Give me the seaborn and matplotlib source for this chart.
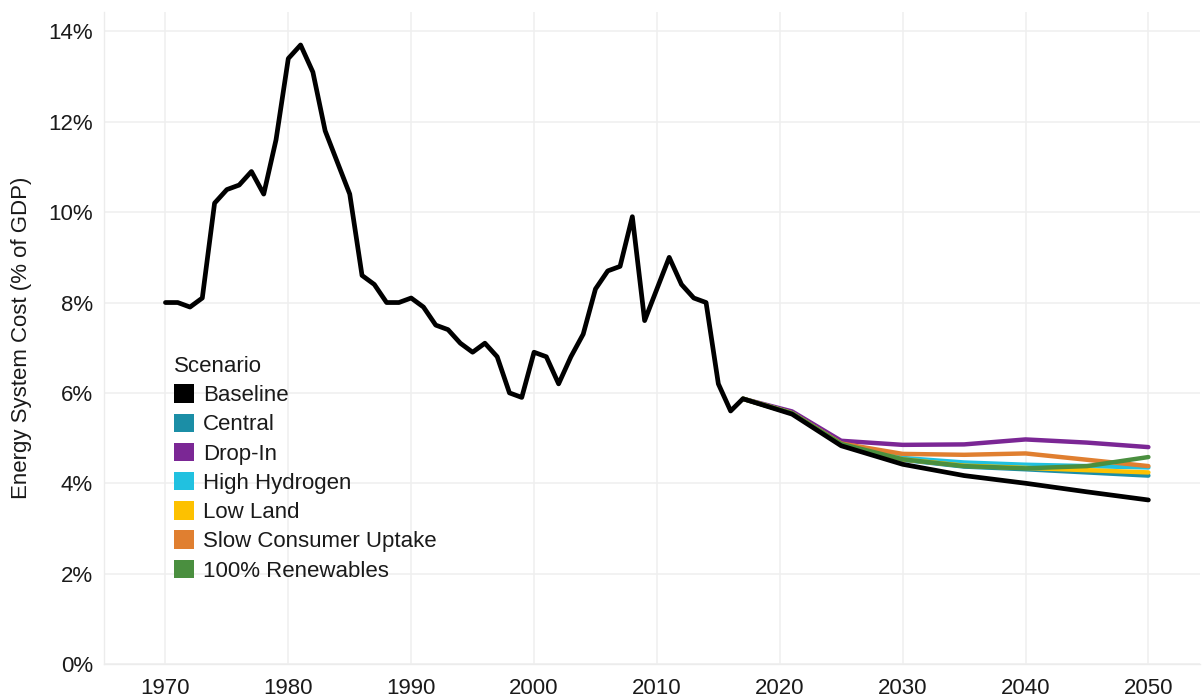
import numpy as np
import pandas as pd
import matplotlib
matplotlib.use("Agg")
import matplotlib.pyplot as plt
from matplotlib.patches import Patch
from matplotlib.ticker import FuncFormatter
import seaborn as sns

# ---- data ----
hist_years = list(range(1970, 2018))
hist_values = [8.0, 8.0, 7.9, 8.1, 10.2, 10.5, 10.6, 10.9, 10.4, 11.6,
               13.4, 13.7, 13.1, 11.8, 11.1, 10.4, 8.6, 8.4, 8.0, 8.0,
               8.1, 7.9, 7.5, 7.4, 7.1, 6.9, 7.1, 6.8, 6.0, 5.9,
               6.9, 6.8, 6.2, 6.8, 7.3, 8.3, 8.7, 8.8, 9.9, 7.6,
               8.3, 9.0, 8.4, 8.1, 8.0, 6.2, 5.6, 5.87]

proj_years = [2017, 2021, 2025, 2030, 2035, 2040, 2045, 2050]
baseline_proj = [5.87, 5.53, 4.83, 4.42, 4.17, 4.00, 3.81, 3.63]
central = [5.87, 5.55, 4.87, 4.52, 4.37, 4.31, 4.24, 4.17]
drop_in = [5.87, 5.59, 4.94, 4.85, 4.86, 4.97, 4.90, 4.80]
high_hydrogen = [5.87, 5.55, 4.87, 4.56, 4.46, 4.41, 4.38, 4.35]
low_land = [5.87, 5.55, 4.87, 4.53, 4.39, 4.34, 4.29, 4.24]
slow_consumer = [5.87, 5.55, 4.88, 4.65, 4.63, 4.66, 4.52, 4.38]
renewables = [5.87, 5.55, 4.87, 4.53, 4.38, 4.33, 4.38, 4.58]

scenario_names = ["Baseline", "Central", "Drop-In", "High Hydrogen", "Low Land",
                  "Slow Consumer Uptake", "100% Renewables"]
scenario_colors = ["#000000", "#1b8ea6", "#7b2795", "#21c1e0", "#fdc100",
                   "#e07f30", "#4a8f3f"]

x_ticks = [1970, 1980, 1990, 2000, 2010, 2020, 2030, 2040, 2050]
y_ticks = [0, 2, 4, 6, 8, 10, 12, 14]

# ---- build long frame ----
rows = []
for y, v in zip(hist_years, hist_values):
    rows.append(("Baseline", y, v))
for y, v in zip(proj_years[1:], baseline_proj[1:]):
    rows.append(("Baseline", y, v))
series = {"Central": central, "Drop-In": drop_in, "High Hydrogen": high_hydrogen,
          "Low Land": low_land, "Slow Consumer Uptake": slow_consumer,
          "100% Renewables": renewables}
for name, vals in series.items():
    for y, v in zip(proj_years, vals):
        rows.append((name, y, v))
df = pd.DataFrame(rows, columns=["Scenario", "Year", "Cost"])

sns.set_theme(style="white")
plt.rcParams['font.family'] = ['Liberation Sans', 'DejaVu Sans']

fig = plt.figure(figsize=(12.03, 6.98), dpi=100)
ax = fig.add_axes([104 / 1203, 1 - 664 / 698, (1200 - 104) / 1203, (664 - 12) / 698])

palette = dict(zip(scenario_names, scenario_colors))
scen_df = df[df["Scenario"] != "Baseline"]
sns.lineplot(data=scen_df, x="Year", y="Cost", hue="Scenario",
             hue_order=scenario_names[1:], palette=palette, linewidth=3.2,
             legend=False, ax=ax, estimator=None, sort=True)
sns.lineplot(data=df[df["Scenario"] == "Baseline"], x="Year", y="Cost",
             color="#000000", linewidth=3.4, legend=False, ax=ax,
             estimator=None, sort=True)

ax.set_xlim(1965, 2054.2)
ax.set_ylim(0, 14.43)
ax.set_xticks(x_ticks)
ax.set_yticks(y_ticks)
ax.yaxis.set_major_formatter(FuncFormatter(lambda v, p: f"{int(v)}%"))
ax.grid(True, color="#efefef", linewidth=1.1)
ax.set_axisbelow(True)
for k, s in ax.spines.items():
    if k in ("left", "bottom"):
        s.set_color("#ececec")
        s.set_linewidth(1.0)
    else:
        s.set_visible(False)
ax.tick_params(axis="both", length=6, width=1.0, color="#ececec",
               labelsize=16, labelcolor="#1a1a1a")
ax.tick_params(axis="y", pad=2)
ax.tick_params(axis="x", pad=4)
ax.set_xlabel("")
ax.set_ylabel("Energy System Cost (% of GDP)", fontsize=16, color="#1a1a1a", labelpad=12)

handles = [Patch(facecolor=c, edgecolor="none", label=n)
           for n, c in zip(scenario_names, scenario_colors)]
leg = ax.legend(handles=handles, title="Scenario", loc="upper left",
                bbox_to_anchor=(174 / 1203, 1 - 356 / 698), bbox_transform=fig.transFigure,
                frameon=False, fontsize=16, title_fontsize=16,
                handlelength=0.9, handleheight=0.9, handletextpad=0.4,
                labelspacing=0.33, borderpad=0, borderaxespad=0, alignment="left")
for t in leg.get_texts():
    t.set_color("#1a1a1a")
leg.get_title().set_color("#1a1a1a")

fig.savefig("out.png", dpi=100, facecolor="white")
